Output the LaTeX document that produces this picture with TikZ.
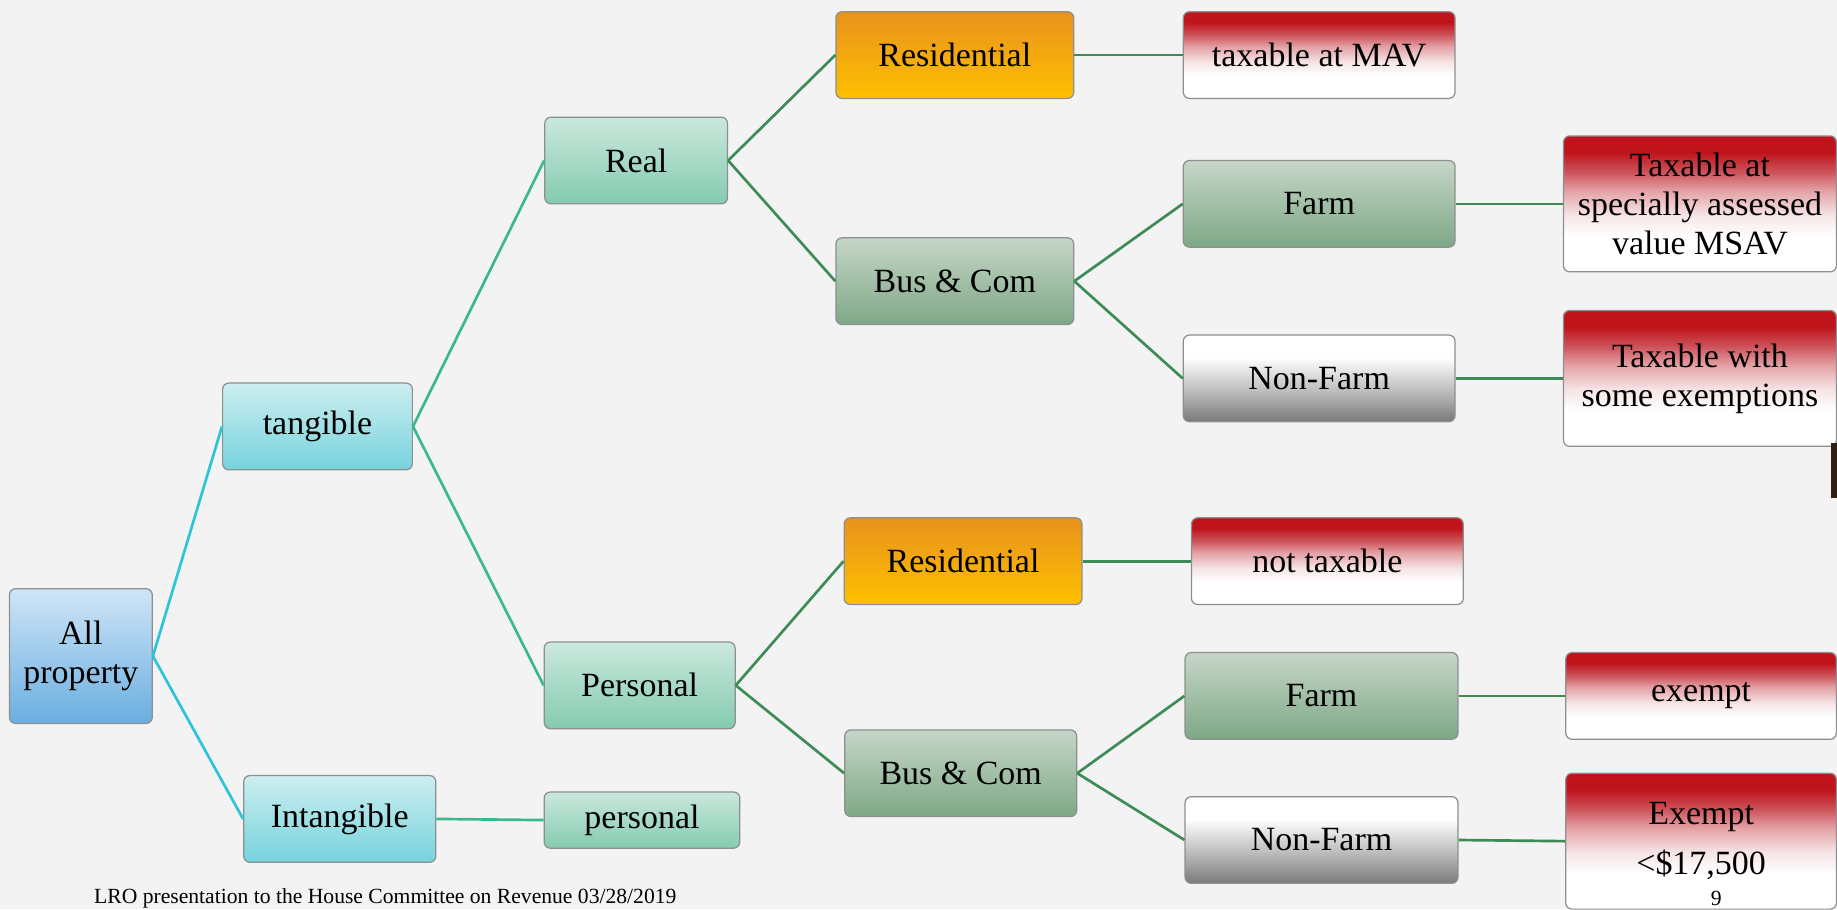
\documentclass[tikz,border=0pt]{standalone}
\usepackage{fontspec}
\setmainfont{Liberation Serif}
\usepackage{xcolor}
\usetikzlibrary{positioning, backgrounds}

\definecolor{bgGrey}{HTML}{F3F3F3}
\definecolor{rootTop}{HTML}{CFE5F7}
\definecolor{rootBot}{HTML}{6AAEE0}
\definecolor{cyanTop}{HTML}{CDEEF0}
\definecolor{cyanBot}{HTML}{76D3DD}
\definecolor{tealTop}{HTML}{CBE8DD}
\definecolor{tealBot}{HTML}{84CBB0}
\definecolor{orgTop}{HTML}{E8921C}
\definecolor{orgBot}{HTML}{FFC000}
\definecolor{sageTop}{HTML}{C6D6C8}
\definecolor{sageBot}{HTML}{7EA886}
\definecolor{redTop}{HTML}{C0141C}
\definecolor{redHigh}{HTML}{CC5058}
\definecolor{redMid}{HTML}{E3A0A4}
\definecolor{redLow}{HTML}{F6E4E5}
\definecolor{greyMid}{HTML}{C4C4C4}
\definecolor{greyBot}{HTML}{7A7A7A}
\definecolor{lineCyan}{HTML}{2BC4D8}
\definecolor{lineTeal}{HTML}{3BB88E}
\definecolor{lineGreen}{HTML}{3D8B57}
\definecolor{edgeGrey}{HTML}{8C9090}

\pgfdeclareverticalshading{redfade}{100bp}{color(0bp)=(white); color(25bp)=(white); color(38bp)=(white); color(46bp)=(redLow); color(55bp)=(redMid); color(62bp)=(redHigh); color(69bp)=(redTop); color(100bp)=(redTop)}
\pgfdeclareverticalshading{greyfade}{100bp}{color(0bp)=(greyBot); color(25bp)=(greyBot); color(45bp)=(greyMid); color(62bp)=(white); color(100bp)=(white)}

\begin{document}
\begin{tikzpicture}[
  x=0.02cm, y=-0.02cm,
  box/.style={
    rectangle, rounded corners=3pt,
    draw=edgeGrey, line width=0.6pt,
    align=center, inner sep=0pt,
    minimum height=1.48cm,
    font=\fontsize{16.5}{19}\selectfont
  },
  rootbox/.style={box, top color=rootTop, bottom color=rootBot,
    minimum width=2.44cm, minimum height=2.3cm},
  cyanbox/.style={box, top color=cyanTop, bottom color=cyanBot},
  tealbox/.style={box, top color=tealTop, bottom color=tealBot},
  resbox/.style={box, top color=orgTop, bottom color=orgBot,
    minimum width=4.06cm},
  sagebox/.style={box, top color=sageTop, bottom color=sageBot},
  greybox/.style={box, shade, shading=greyfade, minimum width=4.64cm},
  redbox/.style={box, shade, shading=redfade, minimum width=4.64cm},
  cyanline/.style={draw=lineCyan, line width=1.3pt},
  tealline/.style={draw=lineTeal, line width=1.3pt},
  greenline/.style={draw=lineGreen, line width=1.3pt}
]

\useasboundingbox (0,0) rectangle (1568,776);
\fill[bgGrey] (0,0) rectangle (1568,776);

%% Root and first split
\node[rootbox] (allprop) at (69,560) {All\\property};
\node[cyanbox, minimum width=3.24cm] (tangible)   at (271,364) {tangible};
\node[cyanbox, minimum width=3.28cm] (intangible) at (290,699) {Intangible};

%% Second level
\node[tealbox, minimum width=3.12cm] (real)      at (543,137) {Real};
\node[tealbox, minimum width=3.26cm] (personal)  at (546,585) {Personal};
\node[tealbox, minimum width=3.34cm, minimum height=0.96cm] (intpers) at (548,700) {personal};

%% Third level
\node[resbox]  (resreal) at (815,47)  {Residential};
\node[sagebox, minimum width=4.06cm] (busreal) at (815,240) {Bus \& Com};
\node[resbox]  (respers) at (822,479) {Residential};
\node[sagebox, minimum width=3.96cm] (buspers) at (820,660) {Bus \& Com};

%% Fourth level
\node[redbox]  (mav)      at (1126,47)  {taxable at MAV};
\node[sagebox, minimum width=4.64cm] (farmreal) at (1126,174) {Farm};
\node[greybox] (nonreal)  at (1126,323) {Non-Farm};
\node[redbox]  (notax)    at (1133,479) {not taxable};
\node[sagebox, minimum width=4.66cm] (farmpers) at (1128,594) {Farm};
\node[greybox, minimum width=4.66cm] (nonpers)  at (1128,717) {Non-Farm};

%% Outcomes (right column)
\node[redbox, minimum width=4.66cm, minimum height=2.32cm] (msav) at (1451,174)
  {Taxable at\\specially assessed\\value MSAV};
\node[redbox, minimum width=4.66cm, minimum height=2.32cm] (someex) at (1451,323)
  {Taxable with\\some exemptions};
\node[redbox, minimum width=4.62cm] (exempt) at (1452,594) {exempt};
\node[redbox, minimum width=4.62cm, minimum height=2.32cm] (smallex) at (1452,718)
  {Exempt\\[5pt]<\$17,500};

%% Connectors
\draw[cyanline] (allprop.east) -- (tangible.west);
\draw[cyanline] (allprop.east) -- (intangible.west);
\draw[tealline] (tangible.east) -- (real.west);
\draw[tealline] (tangible.east) -- (personal.west);
\draw[tealline] (intangible.east) -- (intpers.west);
\draw[greenline] (real.east) -- (resreal.west);
\draw[greenline] (real.east) -- (busreal.west);
\draw[greenline] (personal.east) -- (respers.west);
\draw[greenline] (personal.east) -- (buspers.west);
\draw[greenline] (resreal.east) -- (mav.west);
\draw[greenline] (busreal.east) -- (farmreal.west);
\draw[greenline] (busreal.east) -- (nonreal.west);
\draw[greenline] (respers.east) -- (notax.west);
\draw[greenline] (buspers.east) -- (farmpers.west);
\draw[greenline] (buspers.east) -- (nonpers.west);
\draw[greenline] (farmreal.east) -- (msav.west);
\draw[greenline] (nonreal.east) -- (someex.west);
\draw[greenline] (farmpers.east) -- (exempt.west);
\draw[greenline] (nonpers.east) -- (smallex.west);

%% Slide footer
\node[anchor=base west, font=\fontsize{10.5}{12}\selectfont, inner sep=0pt] (footer) at (80,771)
  {LRO presentation to the House Committee on Revenue 03/28/2019};
\node[anchor=base, font=\fontsize{10.5}{12}\selectfont, inner sep=0pt] (pagenum) at (1465,773) {9};
\fill[black!75!brown] (1563,378) rectangle (1570,425);

\end{tikzpicture}
\end{document}
